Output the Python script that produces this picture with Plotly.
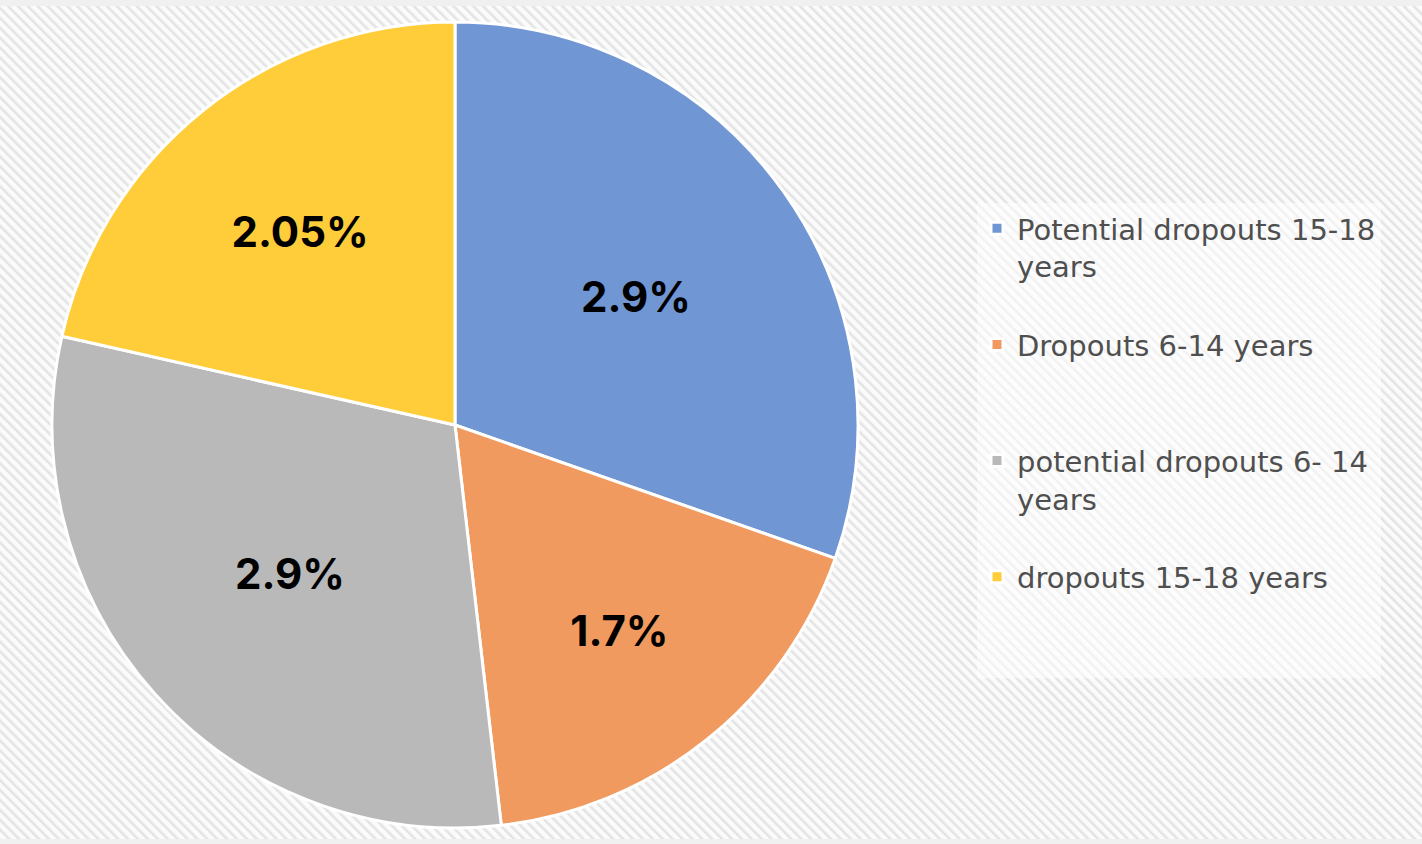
import base64
import plotly.graph_objects as go

# ---- data ----
labels = [
    "Potential dropouts 15-18<br>years<br>&nbsp;",
    "Dropouts 6-14 years<br>&nbsp;<br>&nbsp;",
    "potential dropouts 6- 14<br>years<br>&nbsp;",
    "dropouts 15-18 years<br>&nbsp;<br>&nbsp;",
]
values = [2.9, 1.7, 2.9, 2.05]
colors = ["#7096d4", "#f09a5f", "#b9b9b9", "#ffcd3a"]

W, H = 1422, 844

# ---- hatched background as an inline SVG ----
svg = f"""<svg xmlns='http://www.w3.org/2000/svg' width='{W}' height='{H}'>
<defs><pattern id='p' width='7' height='7' patternUnits='userSpaceOnUse' patternTransform='rotate(-45)'>
<rect width='7' height='7' fill='#fbfbfb'/><rect width='2.6' height='7' fill='#e4e4e4'/></pattern></defs>
<rect width='{W}' height='{H}' fill='url(#p)'/>
<rect width='{W}' height='6' fill='#f0f0f0'/>
<rect y='{H-5}' width='{W}' height='5' fill='#f0f0f0'/>
</svg>"""
bg_src = "data:image/svg+xml;base64," + base64.b64encode(svg.encode()).decode()

cx, cy, R = 455, 425, 403
dom_x = [(cx - R) / W, (cx + R) / W]
dom_y = [(H - cy - R) / H, (H - cy + R) / H]

fig = go.Figure(
    go.Pie(
        labels=labels,
        values=values,
        sort=False,
        direction="clockwise",
        rotation=0,
        marker=dict(colors=colors, line=dict(color="white", width=3)),
        texttemplate="%{value}%",
        textposition="inside",
        insidetextorientation="horizontal",
        insidetextfont=dict(family="Inter", size=42, color="#000000", weight=700),
        domain=dict(x=dom_x, y=dom_y),
        hoverinfo="label+value",
    )
)

fig.update_layout(
    width=W,
    height=H,
    margin=dict(l=0, r=0, t=0, b=0),
    paper_bgcolor="#f7f7f7",
    plot_bgcolor="rgba(0,0,0,0)",
    images=[dict(source=bg_src, xref="paper", yref="paper", x=0, y=1,
                 sizex=1, sizey=1, xanchor="left", yanchor="top",
                 sizing="stretch", layer="below")],
    showlegend=True,
    legend=dict(
        x=977 / W, xanchor="left",
        y=1 - 203 / H, yanchor="top",
        bgcolor="rgba(255,255,255,0.5)",
        font=dict(family="DejaVu Sans", size=29, color="#4f4f4f"),
        valign="top",
        traceorder="normal",
    ),
)

fig.write_html("out.html")
